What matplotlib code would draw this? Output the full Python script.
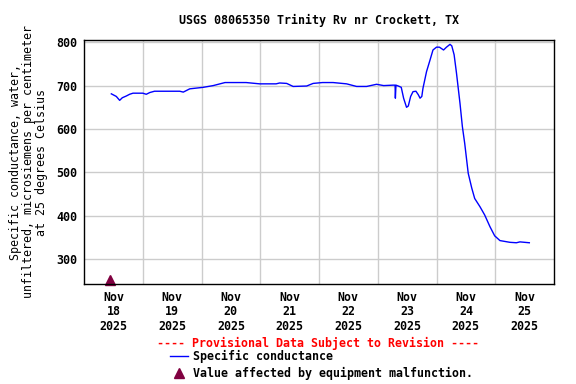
import numpy as np
import matplotlib
matplotlib.use("Agg")
import matplotlib.pyplot as plt
from matplotlib.lines import Line2D

# time in days since Nov 18 2025 00:00, specific conductance (uS/cm)
days = [0.465, 0.55, 0.607, 0.652, 0.72, 0.777, 0.834, 1.0, 1.06, 1.12, 1.2, 1.63,
        1.69, 1.8, 2.03, 2.2, 2.4, 2.76, 2.99, 3.27, 3.33, 3.45, 3.56, 3.79, 3.9,
        4.06, 4.24, 4.47, 4.64, 4.81, 4.98, 5.1, 5.26, 5.295, 5.3, 5.31, 5.35, 5.4,
        5.44, 5.49, 5.52, 5.56, 5.6, 5.65, 5.69, 5.72, 5.75, 5.77, 5.83, 5.89, 5.94,
        6.0, 6.05, 6.12, 6.17, 6.23, 6.26, 6.3, 6.34, 6.4, 6.44, 6.48, 6.54, 6.6,
        6.65, 6.74, 6.82, 6.91, 6.99, 7.08, 7.25, 7.36, 7.42, 7.58]
conductance = [681, 675, 666, 672, 676, 680, 682.5, 682.5, 680, 684, 687, 687,
               685, 692.5, 696, 700, 707, 707, 704, 704, 706, 705, 698, 699, 705,
               707, 707, 704, 698, 698, 703, 700, 701, 701, 671, 701, 699, 696,
               671, 650, 653, 675, 686, 687, 679, 671, 675, 694, 732, 759, 782,
               788.5, 788.5, 782, 788.5, 795, 791.5, 771, 729, 659, 606, 567, 498, 464,
               440, 421, 402, 375, 354, 343, 339, 338, 340, 338]

malfunction_days = [0.44]
malfunction_vals = [252]

day_labels = ["Nov\n18\n2025", "Nov\n19\n2025", "Nov\n20\n2025", "Nov\n21\n2025",
              "Nov\n22\n2025", "Nov\n23\n2025", "Nov\n24\n2025", "Nov\n25\n2025"]
yticks = [300, 400, 500, 600, 700, 800]

plt.rcParams['font.family'] = 'DejaVu Sans Mono'
plt.rcParams['font.weight'] = 'bold'
plt.rcParams['font.size'] = 8.4

fig = plt.figure(figsize=(5.76, 3.84), dpi=100)
ax = fig.add_axes([84 / 576, 1 - 284 / 384, 470 / 576, 244 / 384])

ax.plot(days, conductance, color='#0000ff', lw=1)
ax.plot(malfunction_days, malfunction_vals, '^', color='#800040', ms=7, clip_on=False)

ax.set_xlim(0, 8)
ax.set_ylim(243, 805)
ax.set_xticks(np.arange(len(day_labels)) + 0.5)
ax.set_xticklabels(day_labels, linespacing=1.15)
ax.set_xticks(np.arange(1, 8), minor=True)
ax.set_yticks(yticks)
ax.tick_params(which='both', length=0, pad=5)
ax.grid(which='minor', axis='x', color='#cccccc', lw=1)
ax.grid(which='major', axis='y', color='#cccccc', lw=1)
for s in ax.spines.values():
    s.set_linewidth(1)

ax.set_ylabel("Specific conductance, water,\nunfiltered, microsiemens per centimeter\nat 25 degrees Celsius",
              linespacing=1.0, labelpad=6)
fig.text(0.5 * (179 + 459) / 576, 1 - 20 / 384, "USGS 08065350 Trinity Rv nr Crockett, TX",
         ha='center', va='center')

fig.text(318 / 576, 1 - 343 / 384, "---- Provisional Data Subject to Revision ----",
         color='red', ha='center', va='center')
handles = [Line2D([], [], color='#0000ff', lw=1),
           Line2D([], [], ls='none', marker='^', color='#800040', ms=7)]
fig.legend(handles, ["Specific conductance", "Value affected by equipment malfunction."],
           loc='upper left', bbox_to_anchor=(170 / 576, 1 - 350 / 384), frameon=False,
           handlelength=1.5, handletextpad=0.5, labelspacing=0.32, borderpad=0,
           borderaxespad=0)

fig.savefig("out.png", dpi=100)
